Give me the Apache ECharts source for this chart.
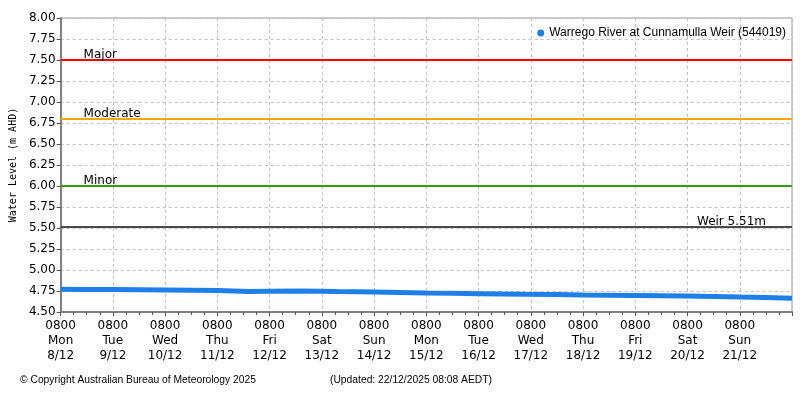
<!DOCTYPE html>
<html>
<head>
<meta charset="utf-8">
<script src="https://cdn.jsdelivr.net/npm/echarts@6/dist/echarts.min.js"></script>
<style>
html,body{margin:0;padding:0;background:#fff;}
#chart{width:800px;height:400px;}
</style>
</head>
<body>
<div id="chart"></div>
<script>
// Tick labels (one per day at 0800)
var tickDays = ['Mon','Tue','Wed','Thu','Fri','Sat','Sun','Mon','Tue','Wed','Thu','Fri','Sat','Sun'];
var tickDates = ['8/12','9/12','10/12','11/12','12/12','13/12','14/12','15/12','16/12','17/12','18/12','19/12','20/12','21/12'];
// Observations: days since 0800 Mon 8/12, water level (m AHD)
var obsDays   = [0,    0.5,   1,     1.5,   2,     2.5,   3,     3.6,   4,     4.6,   5.3,   6,     6.5,   7,     7.5,   8,     8.9,   9.5,   10,    10.5,  11,    11.5,  12,    12.5,  13,    13.5,  14];
var obsLevels = [4.770,4.768, 4.767, 4.765, 4.763, 4.759, 4.755, 4.743, 4.746, 4.751, 4.743, 4.739, 4.733, 4.726, 4.722, 4.718, 4.711, 4.707, 4.703, 4.700, 4.697, 4.694, 4.690, 4.685, 4.678, 4.672, 4.665];
// Thresholds
var thresholdNames  = ['Major','Moderate','Minor','Weir 5.51m'];
var thresholdValues = [7.5, 6.8, 6.0, 5.51];
var thresholdColors = ['#ff0000','#ffa500','#3a9a10','#4d4a4a'];
var seriesName = 'Warrego River at Cunnamulla Weir (544019)';

var chart = echarts.init(document.getElementById('chart'), null, {renderer:'canvas'});
var data = obsDays.map(function(d,i){return [d, obsLevels[i]];});

var markData = thresholdValues.map(function(v,i){
  var isWeir = i === 3;
  return {
    yAxis: v,
    lineStyle: {color: thresholdColors[i], width: 2, type: 'solid'},
    label: {
      show: true,
      formatter: thresholdNames[i],
      position: isWeir ? 'insideEndTop' : 'insideStartTop',
      distance: isWeir ? [26, -1] : [23, -1],
      color: '#000',
      fontFamily: 'DejaVu Sans',
      fontSize: 12
    }
  };
});

chart.setOption({
  animation: false,
  backgroundColor: '#fff',
  grid: {left: 58, right: 8, top: 18, bottom: 88, show: true, borderColor: '#999', borderWidth: 1, backgroundColor: 'transparent'},
  legend: {
    show: true,
    right: 9,
    top: 22,
    icon: 'circle',
    itemWidth: 7,
    itemHeight: 7,
    itemGap: 6,
    textStyle: {fontFamily: 'Liberation Sans', fontSize: 12, color: '#000'},
    data: [seriesName]
  },
  xAxis: {
    type: 'value',
    min: 0,
    max: 14,
    interval: 1,
    axisLine: {show: true, lineStyle: {color: '#808080', width: 2}},
    axisTick: {show: true, length: 4, lineStyle: {color: '#555'}},
    minorTick: {show: true, splitNumber: 4, length: 3, lineStyle: {color: '#555'}},
    splitLine: {show: true, lineStyle: {color: '#c0c0c0', type: [3,3]}},
    axisLabel: {
      show: true,
      color: '#000',
      fontFamily: 'DejaVu Sans',
      fontSize: 12,
      lineHeight: 15,
      margin: 6,
      showMaxLabel: false,
      formatter: function(v){
        var i = Math.round(v);
        if (i < 0 || i >= tickDays.length) return '';
        return '0800\n' + tickDays[i] + '\n' + tickDates[i];
      }
    }
  },
  yAxis: {
    type: 'value',
    min: 4.5,
    max: 8,
    interval: 0.25,
    name: 'Water Level (m AHD)',
    nameLocation: 'middle',
    nameGap: 25,
    nameRotate: 90,
    nameTextStyle: {fontFamily: 'DejaVu Sans Mono', fontSize: 10, color: '#000'},
    axisLine: {show: true, lineStyle: {color: '#808080', width: 2}},
    axisTick: {show: true, length: 4, lineStyle: {color: '#555'}},
    splitLine: {show: true, lineStyle: {color: '#c0c0c0', type: [3,3]}},
    axisLabel: {
      color: '#000',
      fontFamily: 'DejaVu Sans',
      fontSize: 12,
      margin: 5,
      formatter: function(v){return v.toFixed(2);}
    }
  },
  series: [{
    name: seriesName,
    type: 'line',
    data: data,
    showSymbol: false,
    symbol: 'circle',
    itemStyle: {color: '#1e7fe8'},
    lineStyle: {color: '#1e7fe8', width: 5},
    z: 3,
    markLine: {
      silent: true,
      symbol: 'none',
      z: 2,
      data: markData
    }
  }],
  graphic: [
    {type: 'text', left: 20, top: 375, style: {text: '\u00a9 Copyright Australian Bureau of Meteorology 2025', font: '10.3px "Liberation Sans"', fill: '#000'}},
    {type: 'text', left: 330, top: 375, style: {text: '(Updated: 22/12/2025 08:08 AEDT)', font: '10.3px "Liberation Sans"', fill: '#000'}}
  ]
});
</script>
</body>
</html>
